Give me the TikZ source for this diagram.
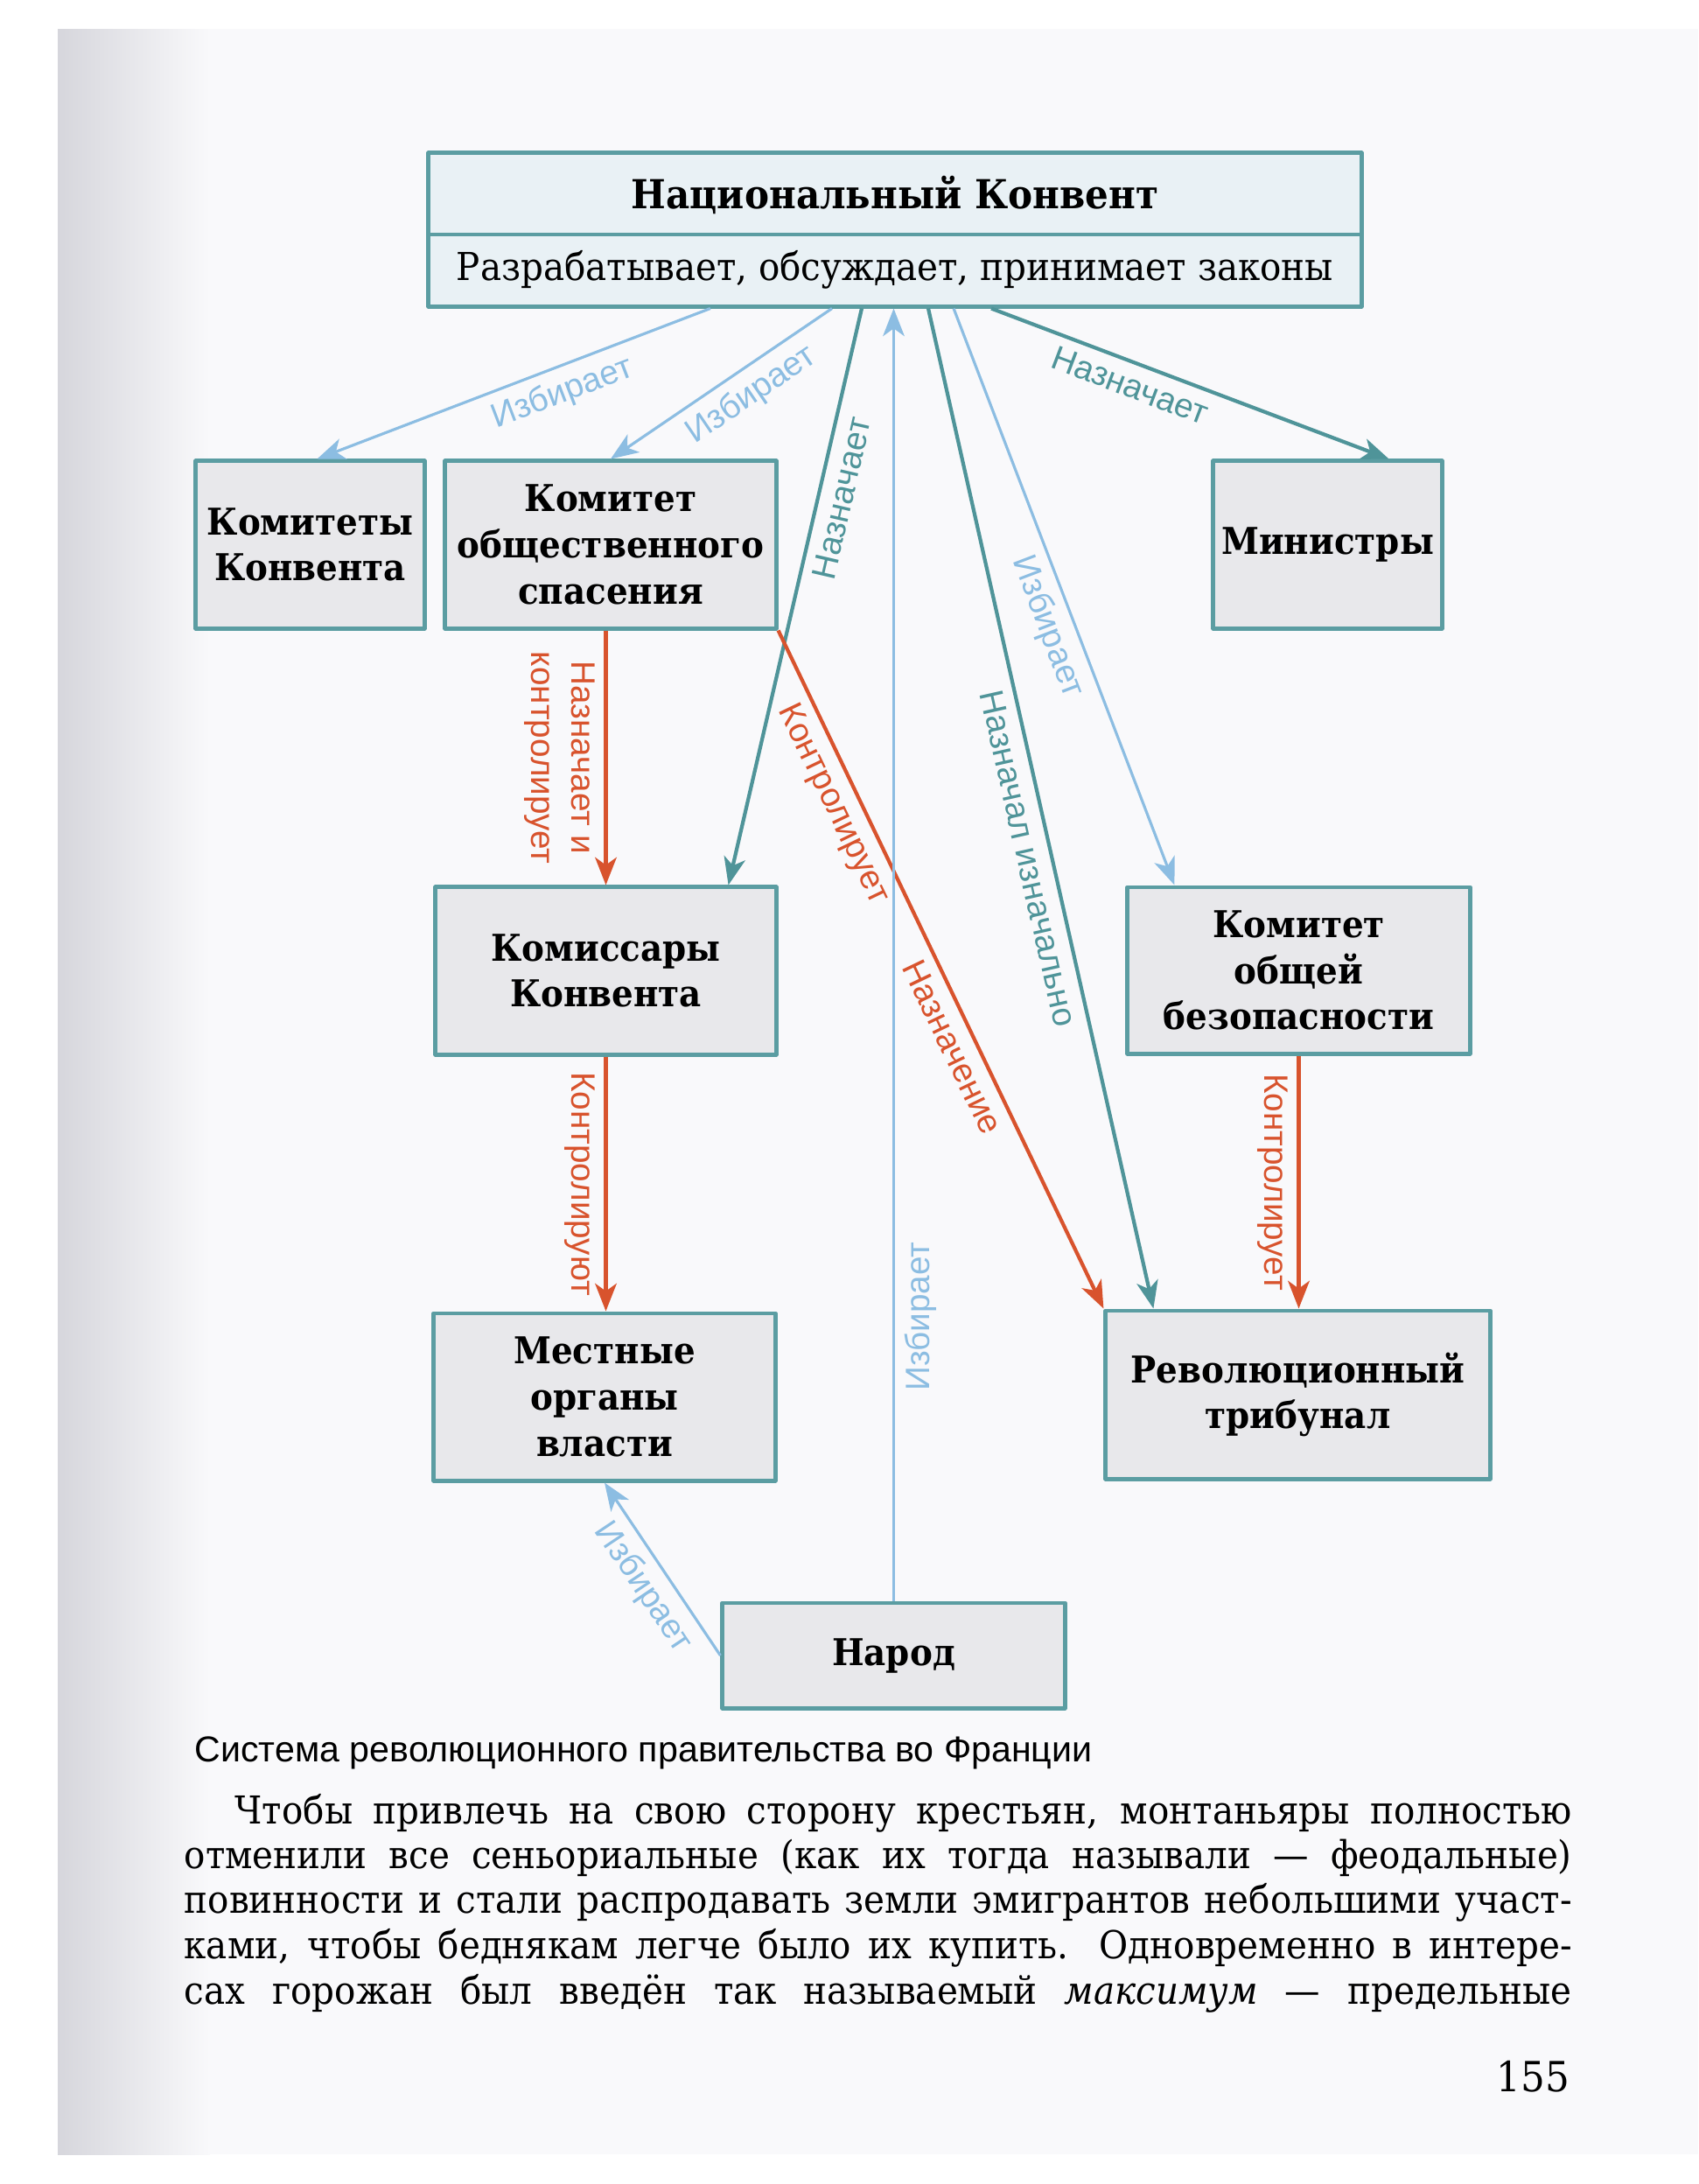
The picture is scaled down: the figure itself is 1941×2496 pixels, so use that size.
\documentclass[tikz,border=0pt]{standalone}
\usepackage{fontspec}
\setmainfont{DejaVu Serif}[FakeStretch=0.92]
\setsansfont{Liberation Sans}
\usetikzlibrary{arrows.meta,positioning}

\definecolor{rama}{HTML}{5B9DA2}
\definecolor{morskoj}{HTML}{4F9499}
\definecolor{goluboj}{HTML}{8CBDE2}
\definecolor{krasnyj}{HTML}{D8532D}
\definecolor{zalivka}{HTML}{E8E8EB}
\definecolor{zalivkatop}{HTML}{E9F1F5}
\definecolor{stranica}{HTML}{F9F9FB}
\definecolor{koreshok}{HTML}{D6D6DC}

\tikzset{
  ramka/.style={draw=rama, line width=1.4pt, fill=zalivka, align=center, inner sep=0pt,
    font=\bfseries\fontsize{12}{15}\selectfont},
  metka/.style={font=\sffamily\fontsize{11}{13}\selectfont, inner sep=3pt},
  izbr/.style={->, goluboj, line width=.9pt},
  nazn/.style={->, morskoj, line width=1.2pt},
  kontr/.style={->, krasnyj, line width=1.2pt},
  stroka/.style={anchor=base west, inner sep=0pt, font=\fontsize{12.5}{14}\selectfont}
}

\begin{document}
\begin{tikzpicture}[x=0.01cm, y=-0.01cm, >={Stealth[length=9pt,width=7pt,inset=2.5pt]}, line join=round]
% page
\useasboundingbox (0,0) rectangle (1941,2496);
\fill[white] (0,0) rectangle (1941,2496);
\fill[stranica] (66,33) rectangle (1941,2462);
\shade[left color=koreshok, right color=stranica] (66,33) rectangle (240,2462);

% boxes
\node[ramka, fill=zalivkatop, minimum width=10.66cm, minimum height=1.75cm] (conv) at (1023,262.5) {};
\node[inner sep=1pt, font=\bfseries\fontsize{13}{15}\selectfont] (convname) at (1023,223) {Национальный Конвент};
\node[inner sep=1pt, font=\fontsize{12.5}{14}\selectfont] (convdel) at (1023,308) {Разрабатывает, обсуждает, принимает законы};
\coordinate (razdel) at (1023,268);
\draw[draw=rama, line width=1.4pt] (conv.west |- razdel) -- (conv.east |- razdel);

\node[ramka, minimum width=2.61cm, minimum height=1.91cm] (komk) at (354.5,622.5) {Комитеты\\Конвента};
\node[ramka, minimum width=3.78cm, minimum height=1.91cm] (kos) at (698,622.5) {Комитет\\общественного\\спасения};
\node[ramka, minimum width=2.61cm, minimum height=1.91cm] (min) at (1517.5,622.5) {Министры};
\node[ramka, minimum width=3.89cm, minimum height=1.91cm] (komis) at (692.5,1109.5) {Комиссары\\Конвента};
\node[ramka, minimum width=3.91cm, minimum height=1.9cm] (kob) at (1484.5,1109) {Комитет\\общей\\безопасности};
\node[ramka, minimum width=3.9cm, minimum height=1.91cm] (mest) at (691,1596.5) {Местные\\органы\\власти};
\node[ramka, minimum width=4.39cm, minimum height=1.92cm] (trib) at (1483.5,1594) {Революционный\\трибунал};
\node[ramka, minimum width=3.91cm, minimum height=1.2cm] (narod) at (1021.5,1892) {Народ};

% arrows from the Convention
\draw[izbr] ([xshift=-2.11cm]conv.south) -- ([xshift=.08cm]komk.north)
  node[pos=.4, sloped, below, metka] {Избирает};
\draw[izbr] ([xshift=-.72cm]conv.south) -- (kos.north)
  node[pos=.43, sloped, below, metka] {Избирает};
\draw[nazn] ([xshift=1.1cm]conv.south) -- ([xshift=.7cm]min.north)
  node[pos=.37, sloped, below, metka] {Назначает};
\draw[nazn] ([xshift=-.38cm]conv.south) -- ([xshift=1.4cm]komis.north)
  node[pos=.32, sloped, below, metka] {Назначает};
\draw[nazn] ([xshift=.38cm]conv.south) -- ([xshift=-1.65cm]trib.north)
  node[pos=.545, sloped, below, metka] {Назначал изначально};
\draw[izbr] ([xshift=.67cm]conv.south) -- ([xshift=-1.42cm]kob.north)
  node[pos=.536, sloped, below, metka] {Избирает};

% control lines
\draw[kontr] (komis.north |- kos.south) -- (komis.north)
  node[midway, rotate=-90, anchor=north, metka, align=center] {Назначает и\\контролирует};
\draw[kontr] (kos.south east) -- (trib.north west)
  node[pos=.24, sloped, below, metka] {Контролирует}
  node[pos=.6, sloped, below, metka] {Назначение};
\draw[kontr] (komis.south) -- (komis.south |- mest.north)
  node[midway, rotate=-90, anchor=north, metka] {Контролируют};
\draw[kontr] (kob.south) -- (kob.south |- trib.north)
  node[midway, rotate=-90, anchor=north, metka] {Контролирует};

% the people
\draw[izbr] (narod.north) -- (narod.north |- conv.south)
  node[pos=.22, sloped, below, metka] {Избирает};
\draw[izbr] (narod.west) -- (mest.south)
  node[pos=.48, sloped, below, metka] {Избирает};

% caption and text
\node[anchor=base west, inner sep=0pt, font=\sffamily\fontsize{11.7}{14}\selectfont] (podpis) at (222,2013)
  {Система революционного правительства во Франции};
\node[stroka] (str1) at (268,2084) {\makebox[15.27cm][s]{Чтобы привлечь на свою сторону крестьян, монтаньяры полностью}};
\node[stroka] (str2) at (210,2135) {\makebox[15.85cm][s]{отменили все сеньориальные (как их тогда называли — феодальные)}};
\node[stroka] (str3) at (210,2186) {\makebox[15.85cm][s]{повинности и стали распродавать земли эмигрантов небольшими участ-}};
\node[stroka] (str4) at (210,2238) {\makebox[15.85cm][s]{ками, чтобы беднякам легче было их купить. Одновременно в интере-}};
\node[stroka] (str5) at (210,2290) {\makebox[15.85cm][s]{сах горожан был введён так называемый \textit{максимум} — предельные}};
\node[anchor=base east, inner sep=0pt, font=\fontsize{13.5}{15}\selectfont] (nomer) at (1795,2390) {155};
\end{tikzpicture}
\end{document}
